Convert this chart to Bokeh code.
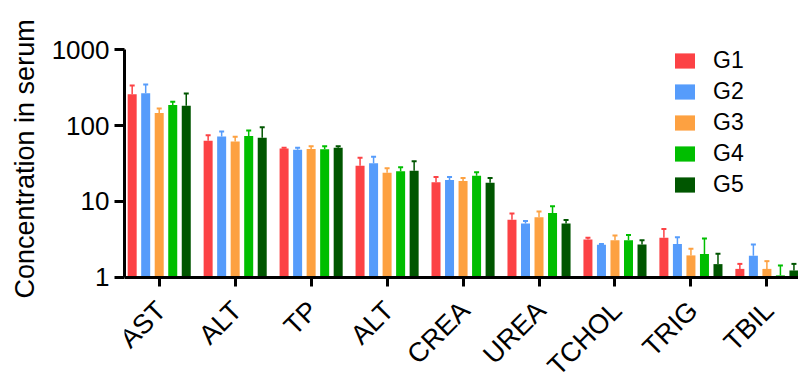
from bokeh.plotting import figure
from bokeh.models import (ColumnDataSource, Range1d, FixedTicker, PrintfTickFormatter,
                          Whisker, TeeHead, Legend, LegendItem, LabelSet, Title)
from bokeh.core.properties import value
from bokeh.embed import file_html
from bokeh.resources import INLINE
import math

categories = ["AST", "ALT", "TP", "ALT", "CREA", "UREA", "TCHOL", "TRIG", "TBIL"]
groups = ["G1", "G2", "G3", "G4", "G5"]
colors = ["#FC4245", "#569CFB", "#FDA141", "#00BE00", "#005600"]

G1 = [261, 63, 49.8, 29.5, 17.9, 5.7, 3.13, 3.29, 1.28]
G2 = [269, 72, 47.9, 31.9, 19.1, 5.09, 2.66, 2.72, 1.91]
G3 = [147, 61.6, 49.3, 23.9, 18.5, 6.16, 3.07, 1.93, 1.28]
G4 = [187, 73, 48.8, 25.0, 21.8, 7.02, 3.07, 2.01, 1.05]
G5 = [183, 69, 50.9, 25.3, 17.6, 5.09, 2.69, 1.48, 1.22]

G1_sd = [78, 11.5, 1.1, 8.1, 3.0, 1.2, 0.16, 1.03, 0.21]
G2_sd = [81, 12, 3.0, 6.8, 1.8, 0.41, 0.06, 0.64, 0.78]
G3_sd = [22, 10, 4.1, 3.5, 1.8, 1.16, 0.47, 0.43, 0.34]
G4_sd = [20, 13, 4.6, 3.3, 2.5, 1.58, 0.53, 1.22, 0.37]
G5_sd = [83, 26, 2.5, 8.6, 2.7, 0.59, 0.38, 0.55, 0.27]

y_ticks = [1, 10, 100, 1000]
y_label = "Concentration in serum"

means = [G1, G2, G3, G4, G5]
sds = [G1_sd, G2_sd, G3_sd, G4_sd, G5_sd]

FONT = "Liberation Sans"

# the frame fills the page height so the rotated category labels and the legend
# are never clipped; the axes themselves are bounded to 1..1000
p = figure(width=798, height=372, output_backend="svg", toolbar_location=None,
           y_axis_type="log", x_range=Range1d(0.043, 8.916), y_range=Range1d(0.0547, 4508),
           min_border_left=124, min_border_right=0, min_border_top=0, min_border_bottom=0)
p.outline_line_color = None
p.grid.visible = False
p.background_fill_color = "white"
p.border_fill_color = "white"

offset = 0.178
bw = 0.1186
items = []
for j, (g, c) in enumerate(zip(groups, colors)):
    xs = [i + 0.5 + (j - 2) * offset for i in range(len(categories))]
    src = ColumnDataSource(dict(x=xs, top=means[j],
                                upper=[m + s for m, s in zip(means[j], sds[j])]))
    r = p.vbar(x="x", top="top", bottom=y_ticks[0], width=bw, source=src,
               fill_color=c, line_color=None)
    w = Whisker(source=src, base="x", lower="top", upper="upper", dimension="height",
                line_color=c, line_width=1.5, lower_head=None,
                upper_head=TeeHead(size=5, line_color=c, line_width=2), level="overlay")
    p.add_layout(w)
    items.append(LegendItem(label=g, renderers=[r]))

# axes
for ax in (p.xaxis[0], p.yaxis[0]):
    ax.axis_line_width = 3
    ax.axis_line_color = "black"
    ax.major_tick_line_width = 3
    ax.major_tick_line_color = "black"
    ax.major_tick_in = 0
    ax.minor_tick_line_color = None
    ax.major_label_text_font = FONT
    ax.major_label_text_color = "black"

p.yaxis.ticker = FixedTicker(ticks=y_ticks, minor_ticks=[])
p.yaxis.bounds = (y_ticks[0], y_ticks[-1])
p.yaxis.formatter = PrintfTickFormatter(format="%d")
p.yaxis.major_tick_out = 10
p.yaxis.major_label_standoff = 5
p.yaxis.major_label_text_font_size = "26px"

# y-axis title, placed along the 1..1000 span
p.add_layout(Title(text=y_label, align="left", vertical_align="middle", offset=74, standoff=15,
                   text_font=FONT, text_font_size="27px", text_font_style="normal",
                   text_color="black"), "left")

tick_x = [i + 0.5 for i in range(len(categories))]
p.xaxis.fixed_location = y_ticks[0]
p.xaxis.ticker = FixedTicker(ticks=tick_x, minor_ticks=[])
p.xaxis.major_label_overrides = {t: "" for t in tick_x}
p.xaxis.major_tick_out = 9
p.xaxis.major_label_standoff = 0

# rotated category labels, anchored below each tick
lab_src = ColumnDataSource(dict(x=tick_x, y=[y_ticks[0]] * len(categories), text=categories))
labels = LabelSet(x="x", y="y", text="text", source=lab_src, angle=math.pi / 4,
                  x_offset=2, y_offset=-29, text_align="right", text_baseline="middle",
                  text_font=value(FONT), text_font_size="27px", text_color="black")
p.add_layout(labels)

legend = Legend(items=items, location=(548, 174), border_line_color=None,
                background_fill_alpha=0, padding=0, margin=0, spacing=4,
                glyph_width=25, glyph_height=19, label_standoff=16,
                label_text_font=FONT, label_text_font_size="23px",
                label_text_color="black")
p.add_layout(legend, "center")

open("out.html", "w").write(file_html(p, INLINE))
